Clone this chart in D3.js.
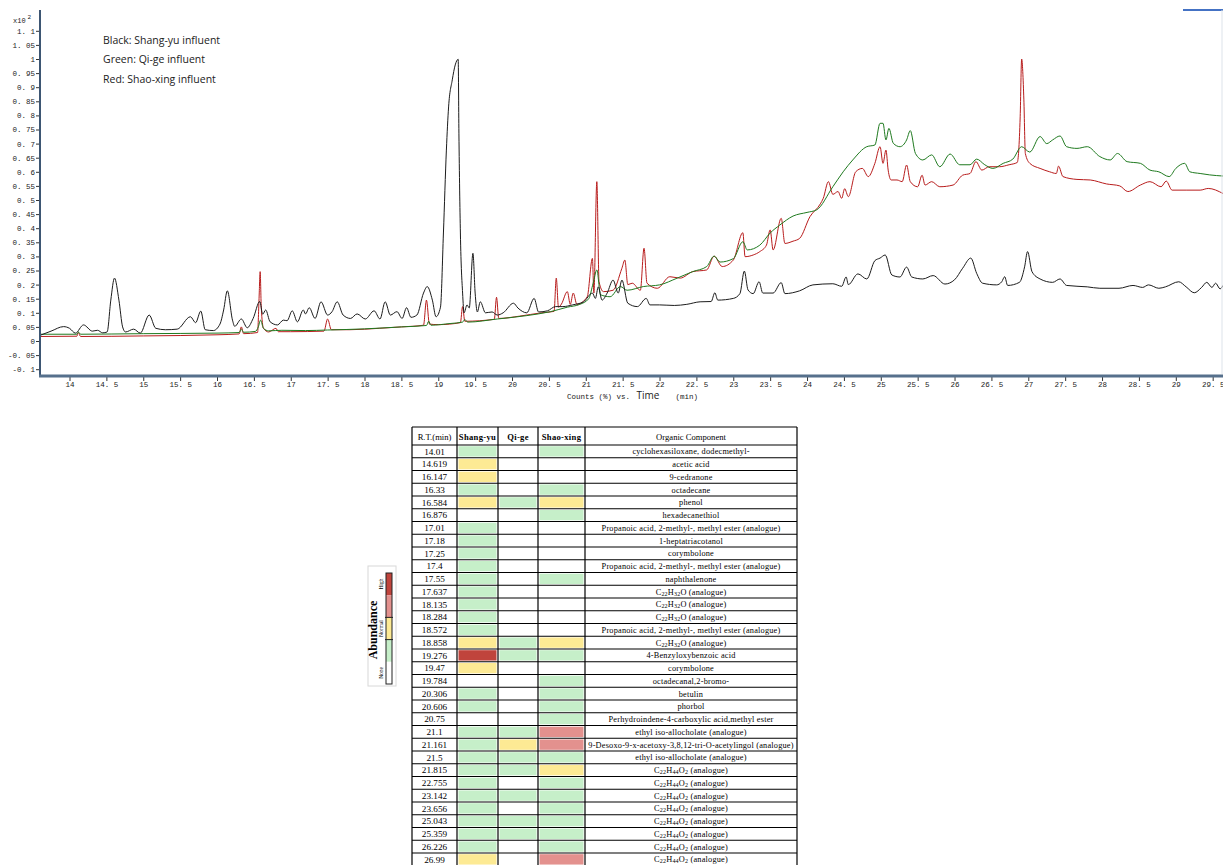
<!DOCTYPE html>
<html>
<head>
<meta charset="utf-8">
<script src="https://cdn.jsdelivr.net/npm/d3@7"></script>
<style>
  body { margin: 0; background: #fff; }
  svg { display: block; }
</style>
</head>
<body>
<div id="chart"></div>
<script>
// Chromatogram traces: [retention time (min), counts x10^2]
var shangyu = [[13.61,0.021],[13.75,0.035],[13.92,0.051],[14.0,0.045],[14.08,0.028],[14.19,0.057],[14.31,0.035],[14.38,0.038],[14.45,0.029],[14.51,0.032],[14.56,0.145],[14.61,0.223],[14.67,0.145],[14.72,0.05],[14.76,0.032],[14.87,0.042],[14.96,0.028],[15.08,0.092],[15.17,0.045],[15.3,0.04],[15.46,0.042],[15.64,0.086],[15.71,0.065],[15.78,0.106],[15.84,0.04],[15.95,0.037],[16.04,0.06],[16.09,0.11],[16.14,0.178],[16.21,0.074],[16.24,0.052],[16.33,0.078],[16.41,0.047],[16.49,0.08],[16.58,0.14],[16.62,0.095],[16.66,0.11],[16.72,0.068],[16.82,0.057],[16.9,0.074],[16.95,0.072],[17.02,0.107],[17.09,0.068],[17.17,0.11],[17.2,0.096],[17.25,0.118],[17.33,0.08],[17.41,0.139],[17.5,0.092],[17.56,0.104],[17.63,0.139],[17.71,0.092],[17.81,0.08],[17.9,0.096],[18.01,0.078],[18.13,0.107],[18.21,0.078],[18.28,0.139],[18.35,0.092],[18.44,0.104],[18.51,0.08],[18.57,0.118],[18.63,0.084],[18.71,0.092],[18.8,0.17],[18.85,0.193],[18.92,0.145],[18.97,0.086],[19.03,0.12],[19.07,0.383],[19.11,0.677],[19.14,0.83],[19.19,0.926],[19.23,0.979],[19.27,0.999],[19.28,0.737],[19.3,0.383],[19.33,0.17],[19.35,0.1],[19.39,0.128],[19.42,0.117],[19.47,0.311],[19.5,0.17],[19.53,0.103],[19.57,0.139],[19.64,0.1],[19.73,0.103],[19.8,0.092],[19.88,0.1],[20.02,0.134],[20.08,0.117],[20.2,0.1],[20.3,0.151],[20.36,0.103],[20.48,0.107],[20.59,0.122],[20.69,0.122],[20.82,0.128],[20.97,0.139],[21.09,0.17],[21.13,0.151],[21.17,0.192],[21.22,0.145],[21.29,0.17],[21.37,0.216],[21.44,0.17],[21.49,0.216],[21.57,0.134],[21.7,0.122],[21.82,0.151],[21.87,0.128],[22.0,0.128],[22.2,0.126],[22.37,0.13],[22.55,0.139],[22.7,0.14],[22.75,0.171],[22.79,0.145],[23.0,0.151],[23.09,0.168],[23.15,0.248],[23.2,0.181],[23.27,0.168],[23.35,0.21],[23.4,0.17],[23.54,0.17],[23.65,0.207],[23.7,0.168],[23.9,0.178],[24.08,0.199],[24.35,0.203],[24.47,0.194],[24.53,0.227],[24.56,0.2],[24.69,0.238],[24.81,0.22],[24.92,0.285],[24.99,0.294],[25.06,0.305],[25.15,0.234],[25.26,0.227],[25.35,0.262],[25.42,0.227],[25.57,0.22],[25.71,0.232],[25.87,0.202],[26.0,0.217],[26.11,0.258],[26.22,0.294],[26.3,0.24],[26.38,0.205],[26.57,0.199],[26.64,0.21],[26.68,0.228],[26.72,0.197],[26.88,0.208],[26.95,0.263],[26.99,0.317],[27.05,0.246],[27.16,0.22],[27.33,0.208],[27.43,0.22],[27.52,0.197],[27.8,0.192],[27.97,0.187],[28.23,0.187],[28.42,0.197],[28.55,0.19],[28.63,0.199],[28.77,0.187],[28.86,0.192],[29.04,0.21],[29.14,0.192],[29.25,0.171],[29.35,0.19],[29.42,0.208],[29.49,0.19],[29.54,0.205],[29.6,0.185],[29.64,0.197]];

var qige = [[13.61,0.024],[14.1,0.024],[14.12,0.032],[14.15,0.024],[15.0,0.026],[16.0,0.028],[16.3,0.03],[16.33,0.042],[16.36,0.031],[16.52,0.034],[16.56,0.05],[16.59,0.074],[16.63,0.045],[16.7,0.036],[16.88,0.038],[17.2,0.037],[17.5,0.039],[18.0,0.043],[18.5,0.05],[18.84,0.055],[18.87,0.07],[18.9,0.056],[19.16,0.062],[19.33,0.067],[19.36,0.076],[19.4,0.067],[19.8,0.078],[20.2,0.09],[20.52,0.104],[20.75,0.12],[20.92,0.13],[21.04,0.15],[21.1,0.205],[21.15,0.252],[21.2,0.164],[21.33,0.157],[21.47,0.193],[21.56,0.18],[21.78,0.193],[22.0,0.199],[22.24,0.223],[22.45,0.246],[22.64,0.264],[22.74,0.301],[22.82,0.28],[23.0,0.292],[23.13,0.352],[23.19,0.323],[23.36,0.34],[23.5,0.383],[23.63,0.411],[23.81,0.443],[24.0,0.456],[24.13,0.465],[24.35,0.547],[24.49,0.6],[24.62,0.642],[24.81,0.689],[24.92,0.695],[24.99,0.772],[25.03,0.772],[25.07,0.713],[25.11,0.754],[25.17,0.701],[25.26,0.689],[25.35,0.713],[25.4,0.746],[25.47,0.665],[25.57,0.642],[25.69,0.66],[25.8,0.618],[25.94,0.663],[26.07,0.625],[26.21,0.625],[26.3,0.645],[26.41,0.625],[26.52,0.612],[26.66,0.63],[26.79,0.645],[26.91,0.689],[27.02,0.67],[27.16,0.725],[27.25,0.7],[27.33,0.713],[27.43,0.727],[27.52,0.689],[27.66,0.683],[27.8,0.689],[27.97,0.654],[28.11,0.642],[28.21,0.665],[28.34,0.636],[28.52,0.63],[28.65,0.606],[28.77,0.6],[28.91,0.583],[29.0,0.612],[29.12,0.63],[29.19,0.6],[29.33,0.594],[29.46,0.589],[29.64,0.585]];

var shaoxing = [[13.61,0.016],[14.1,0.017],[14.12,0.03],[14.15,0.016],[15.0,0.018],[16.0,0.022],[16.3,0.025],[16.33,0.05],[16.36,0.026],[16.55,0.03],[16.57,0.15],[16.585,0.246],[16.6,0.12],[16.63,0.045],[16.7,0.032],[16.8,0.045],[16.83,0.033],[17.0,0.033],[17.45,0.035],[17.5,0.078],[17.55,0.04],[17.8,0.04],[18.2,0.045],[18.5,0.05],[18.8,0.056],[18.84,0.145],[18.88,0.06],[19.0,0.058],[19.3,0.065],[19.33,0.122],[19.36,0.07],[19.76,0.077],[19.79,0.155],[19.82,0.08],[20.1,0.088],[20.4,0.1],[20.57,0.105],[20.6,0.223],[20.63,0.12],[20.67,0.131],[20.75,0.175],[20.79,0.13],[20.83,0.17],[20.88,0.13],[21.02,0.157],[21.09,0.293],[21.11,0.17],[21.15,0.565],[21.18,0.21],[21.24,0.175],[21.37,0.18],[21.49,0.258],[21.53,0.287],[21.57,0.2],[21.63,0.205],[21.74,0.18],[21.79,0.329],[21.83,0.205],[21.97,0.187],[22.14,0.228],[22.28,0.223],[22.45,0.246],[22.64,0.252],[22.74,0.301],[22.85,0.264],[23.0,0.287],[23.13,0.384],[23.16,0.299],[23.27,0.305],[23.36,0.317],[23.45,0.34],[23.5,0.394],[23.54,0.323],[23.65,0.435],[23.7,0.346],[23.81,0.354],[23.9,0.364],[24.04,0.441],[24.18,0.486],[24.22,0.506],[24.29,0.565],[24.35,0.52],[24.42,0.53],[24.47,0.506],[24.51,0.54],[24.56,0.512],[24.66,0.6],[24.75,0.612],[24.83,0.583],[24.92,0.63],[24.99,0.689],[25.03,0.63],[25.07,0.677],[25.1,0.606],[25.14,0.571],[25.22,0.571],[25.29,0.565],[25.35,0.624],[25.4,0.565],[25.5,0.547],[25.56,0.588],[25.6,0.553],[25.69,0.565],[25.8,0.547],[25.98,0.553],[26.11,0.588],[26.21,0.594],[26.29,0.636],[26.37,0.606],[26.47,0.618],[26.61,0.618],[26.74,0.625],[26.85,0.633],[26.89,0.795],[26.91,1.0],[26.94,0.855],[26.96,0.665],[27.02,0.63],[27.16,0.612],[27.29,0.6],[27.38,0.594],[27.41,0.62],[27.47,0.583],[27.66,0.573],[27.84,0.571],[28.06,0.557],[28.24,0.55],[28.35,0.53],[28.52,0.553],[28.65,0.565],[28.8,0.547],[28.87,0.567],[28.95,0.535],[29.14,0.535],[29.33,0.535],[29.44,0.541],[29.64,0.523]];

var xTicks = [14,14.5,15,15.5,16,16.5,17,17.5,18,18.5,19,19.5,20,20.5,21,21.5,22,22.5,23,23.5,24,24.5,25,25.5,26,26.5,27,27.5,28,28.5,29,29.5];
var yTicks = [-0.1,-0.05,0,0.05,0.1,0.15,0.2,0.25,0.3,0.35,0.4,0.45,0.5,0.55,0.6,0.65,0.7,0.75,0.8,0.85,0.9,0.95,1,1.05,1.1];
var legendText = ["Black: Shang-yu influent", "Green: Qi-ge influent", "Red: Shao-xing influent"];

// Table: abundance level 0 none, 1 low, 2 normal, 3 strong, 4 high
var rtList = ["14.01","14.619","16.147","16.33","16.584","16.876","17.01","17.18","17.25","17.4","17.55","17.637","18.135","18.284","18.572","18.858","19.276","19.47","19.784","20.306","20.606","20.75","21.1","21.161","21.5","21.815","22.755","23.142","23.656","25.043","25.359","26.226","26.99"];
var levelShangyu  = [1,2,2,1,2,0,1,1,1,1,1,1,1,1,1,2,4,2,0,1,1,0,1,1,1,1,1,1,1,1,1,1,2];
var levelQige     = [0,0,0,0,1,0,0,0,0,0,0,0,0,0,0,1,1,0,0,0,0,0,1,2,1,1,0,1,0,1,1,0,0];
var levelShaoxing = [1,0,0,1,2,1,0,0,0,0,1,0,0,0,0,2,1,0,1,1,1,1,3,3,1,2,1,1,1,1,1,1,3];
var components = ["cyclohexasiloxane, dodecmethyl-","acetic acid","9-cedranone","octadecane","phenol","hexadecanethiol",
  "Propanoic acid, 2-methyl-, methyl ester (analogue)","1-heptatriacotanol","corymbolone",
  "Propanoic acid, 2-methyl-, methyl ester (analogue)","naphthalenone","C22H32O (analogue)","C22H32O (analogue)",
  "C22H32O (analogue)","Propanoic acid, 2-methyl-, methyl ester (analogue)","C22H32O (analogue)","4-Benzyloxybenzoic acid",
  "corymbolone","octadecanal,2-bromo-","betulin","phorbol","Perhydroindene-4-carboxylic acid,methyl ester",
  "ethyl iso-allocholate (analogue)","9-Desoxo-9-x-acetoxy-3,8,12-tri-O-acetylingol (analogue)","ethyl iso-allocholate (analogue)",
  "C22H44O2 (analogue)","C22H44O2 (analogue)","C22H44O2 (analogue)","C22H44O2 (analogue)","C22H44O2 (analogue)",
  "C22H44O2 (analogue)","C22H44O2 (analogue)","C22H44O2 (analogue)"];
var headers = ["R.T.(min)","Shang-yu","Qi-ge","Shao-xing","Organic Component"];
var levelNames = ["None","","Normal","","High"];
var levelColors = ["#ffffff","#c6efc9","#fdea94","#e3918e","#c0443c"];

var W = 1223, H = 865;
var svg = d3.select("#chart").append("svg").attr("width", W).attr("height", H);

var mono = "'Liberation Mono', 'DejaVu Sans Mono', monospace";
var serif = "'Liberation Serif', 'DejaVu Serif', serif";

// Chromatogram
var x = d3.scaleLinear().domain([13.6, 29.64]).range([40, 1223]);
var y = d3.scaleLinear().domain([0, 1]).range([341, 59]);
var fmt = function(d) { return String(+d.toFixed(2)).replace(".", ". "); };

svg.append("clipPath").attr("id", "plotClip")
  .append("rect").attr("x", 40).attr("y", 8).attr("width", 1183).attr("height", 366);

var line = d3.line()
  .x(function(d) { return x(d[0]); })
  .y(function(d) { return y(d[1]); })
  .curve(d3.curveMonotoneX);

var traces = svg.append("g").attr("clip-path", "url(#plotClip)");
traces.append("path").datum(shaoxing).attr("d", line)
  .style("fill", "none").style("stroke", "#b81c1c").style("stroke-width", 1);
traces.append("path").datum(qige).attr("d", line)
  .style("fill", "none").style("stroke", "#1f7a1f").style("stroke-width", 1);
traces.append("path").datum(shangyu).attr("d", line)
  .style("fill", "none").style("stroke", "#1c1c1c").style("stroke-width", 1);

// Axes
var yAxis = svg.append("g").attr("transform", "translate(40,0)")
  .call(d3.axisLeft(y).tickValues(yTicks).tickSize(4).tickPadding(1).tickFormat(fmt));
var xAxis = svg.append("g").attr("transform", "translate(0,377)")
  .call(d3.axisBottom(x).tickValues(xTicks).tickSize(4).tickPadding(1).tickFormat(fmt));
[yAxis, xAxis].forEach(function(a) {
  a.select(".domain").remove();
  a.selectAll(".tick line").style("stroke", "#333");
  a.selectAll(".tick text").style("font-family", mono).style("font-size", "7.5px").style("fill", "#222");
});

svg.append("line").attr("x1", 40).attr("x2", 40).attr("y1", 10).attr("y2", 377)
  .style("stroke", "#3d5673").style("stroke-width", 2);
svg.append("line").attr("x1", 39).attr("x2", 1223).attr("y1", 376).attr("y2", 376)
  .style("stroke", "#56708c").style("stroke-width", 3);

// blue marker top right, faint frame edge
svg.append("line").attr("x1", 1183).attr("x2", 1223).attr("y1", 10).attr("y2", 10)
  .style("stroke", "#4472c4").style("stroke-width", 2);
svg.append("line").attr("x1", 1222).attr("x2", 1222).attr("y1", 10).attr("y2", 374)
  .style("stroke", "#dde3ea").style("stroke-width", 1);

// exponent label
var ex = svg.append("text").attr("x", 13).attr("y", 23)
  .style("font-family", mono).style("font-size", "7px").style("fill", "#222");
ex.append("tspan").text("x10");
ex.append("tspan").attr("dx", 2).attr("dy", -4).style("font-size", "6px").text("2");

// axis title
var xt = svg.append("text").attr("x", 567).attr("y", 399).style("fill", "#222");
xt.append("tspan").style("font-family", mono).style("font-size", "7.5px").text("Counts (%) vs. ");
xt.append("tspan").attr("dx", 2).style("font-family", "'Open Sans', sans-serif").style("font-size", "10px").text("Time");
xt.append("tspan").attr("dx", 16).style("font-family", mono).style("font-size", "7.5px").text("(min)");

// trace legend
svg.append("g").selectAll("text").data(legendText).enter().append("text")
  .attr("x", 103).attr("y", function(d, i) { return 44 + i * 19.3; })
  .style("font-family", "'Open Sans', sans-serif").style("font-size", "10.5px").style("fill", "#222")
  .text(function(d) { return d; });

// Table
var colX = [412, 457, 498, 538, 585, 797];
var headTop = 427, headBottom = 445;
var row = d3.scaleBand().domain(rtList).range([headBottom, headBottom + rtList.length * 12.75]);
var table = svg.append("g");

var levelCols = [levelShangyu, levelQige, levelShaoxing];
levelCols.forEach(function(levels, c) {
  table.append("g").selectAll("rect").data(rtList).enter().append("rect")
    .attr("x", colX[c + 1] + 1.5)
    .attr("y", function(d) { return row(d) + 1.2; })
    .attr("width", colX[c + 2] - colX[c + 1] - 3)
    .attr("height", row.bandwidth() - 2.4)
    .style("fill", function(d, i) { return levelColors[levels[i]]; });
});

// grid lines
var bottom = headBottom + rtList.length * 12.75;
table.append("g").selectAll("line").data(colX).enter().append("line")
  .attr("x1", function(d) { return d; }).attr("x2", function(d) { return d; })
  .attr("y1", headTop).attr("y2", bottom)
  .style("stroke", "#000").style("stroke-width", 1.2);
table.append("g").selectAll("line").data([headTop].concat(rtList.map(function(d) { return row(d); }), [bottom]))
  .enter().append("line")
  .attr("x1", colX[0]).attr("x2", colX[5])
  .attr("y1", function(d) { return d; }).attr("y2", function(d) { return d; })
  .style("stroke", "#000").style("stroke-width", 1.2);

// header text
table.append("g").selectAll("text").data(headers).enter().append("text")
  .attr("x", function(d, i) { return (colX[i] + colX[i + 1]) / 2; })
  .attr("y", 439.5)
  .style("text-anchor", "middle")
  .style("font-family", serif).style("font-size", "8.6px")
  .style("letter-spacing", function(d, i) { return (i >= 1 && i <= 3) ? "0.3px" : "0px"; })
  .style("font-weight", function(d, i) { return (i >= 1 && i <= 3) ? "bold" : "normal"; })
  .text(function(d) { return d; });

table.append("g").selectAll("text").data(rtList).enter().append("text")
  .attr("x", (colX[0] + colX[1]) / 2)
  .attr("y", function(d) { return row(d) + row.bandwidth() / 2 + 3.2; })
  .style("text-anchor", "middle")
  .style("font-family", serif).style("font-size", "9.2px")
  .text(function(d) { return d; });

var compText = table.append("g").selectAll("text").data(components).enter().append("text")
  .attr("x", (colX[4] + colX[5]) / 2)
  .attr("y", function(d, i) { return row(rtList[i]) + row.bandwidth() / 2 + 2.9; })
  .style("text-anchor", "middle")
  .style("font-family", serif).style("font-size", "8.3px").style("letter-spacing", "0.2px");
compText.each(function(d) {
  var t = d3.select(this);
  if (/^C\d/.test(d)) {
    // chemical formula: digits set as subscripts
    var parts = d.split(" ");
    var formula = parts.shift();
    formula.match(/[A-Z][a-z]?|\d+/g).forEach(function(p) {
      if (/\d/.test(p)) t.append("tspan").style("font-size", "6px").attr("baseline-shift", "-1").text(p);
      else t.append("tspan").text(p);
    });
    t.append("tspan").text(" " + parts.join(" "));
  } else {
    t.text(d);
  }
});

// abundance legend
var leg = svg.append("g");
leg.append("rect").attr("x", 368).attr("y", 566).attr("width", 28).attr("height", 120)
  .style("fill", "none").style("stroke", "#d8d8d8").style("stroke-width", 1);
var lev = d3.scaleBand().domain([4, 3, 2, 1, 0]).range([573, 684]);
leg.selectAll(".lv").data(lev.domain()).enter().append("rect")
  .attr("class", "lv")
  .attr("x", 386).attr("y", function(d) { return lev(d); })
  .attr("width", 6).attr("height", lev.bandwidth())
  .style("fill", function(d) { return levelColors[d]; });
leg.append("rect").attr("x", 386).attr("y", 573).attr("width", 6).attr("height", 111)
  .style("fill", "none").style("stroke", "#222").style("stroke-width", 1);
leg.selectAll(".sep").data([2]).enter().append("line")
  .attr("x1", 385).attr("x2", 393)
  .attr("y1", function(d) { return lev(d); }).attr("y2", function(d) { return lev(d); })
  .style("stroke", "#222");
leg.selectAll(".sep2").data([2]).enter().append("line")
  .attr("x1", 385).attr("x2", 393)
  .attr("y1", function(d) { return lev(d) + lev.bandwidth(); }).attr("y2", function(d) { return lev(d) + lev.bandwidth(); })
  .style("stroke", "#222");
leg.selectAll(".ln").data([4, 2, 0]).enter().append("text")
  .attr("class", "ln")
  .attr("transform", function(d) { return "translate(383," + (lev(d) + lev.bandwidth() / 2) + ") rotate(-90)"; })
  .style("text-anchor", "middle")
  .style("font-family", serif).style("font-size", "5.5px")
  .text(function(d) { return levelNames[d]; });
leg.append("text")
  .attr("transform", "translate(377,630) rotate(-90)")
  .style("text-anchor", "middle")
  .style("font-family", serif).style("font-size", "12px").style("font-weight", "bold")
  .text("Abundance");
</script>
</body>
</html>
